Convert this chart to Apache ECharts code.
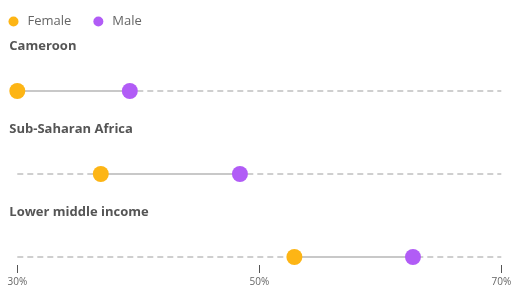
<!DOCTYPE html>
<html><head><meta charset="utf-8">
<script src="https://cdn.jsdelivr.net/npm/echarts@6/dist/echarts.min.js"></script>
<style>html,body{margin:0;padding:0;background:#fff}#c{width:511px;height:285px}</style>
</head><body><div id="c"></div>
<script>
const categories = ['Cameroon', 'Sub-Saharan Africa', 'Lower middle income'];
const female = [30.0, 36.9, 52.9];
const male = [39.3, 48.4, 62.7];
const xTicks = [30, 50, 70];

const FONT = '"Open Sans", "Noto Sans", sans-serif';
const cFemale = '#FDB515';
const cMale = '#B15CF6';

const chart = echarts.init(document.getElementById('c'));
chart.setOption({
  animation: false,
  textStyle: { fontFamily: FONT },
  legend: {
    left: 3.5, top: 10, itemWidth: 18, itemHeight: 10, itemGap: 22,
    icon: 'circle',
    textStyle: { color: '#666', fontSize: 13, fontFamily: FONT },
    data: ['Female', 'Male']
  },
  grid: { left: 17.3, right: 9.7, top: 91, bottom: 28, outerBoundsMode: 'none', containLabel: false },
  xAxis: {
    type: 'value', min: xTicks[0], max: xTicks[xTicks.length - 1], interval: 20,
    offset: 8,
    axisLine: { show: false },
    axisTick: { show: true, length: 8, lineStyle: { color: '#555' } },
    splitLine: { show: false },
    axisLabel: { color: '#666', fontSize: 10, margin: 12, formatter: v => v + '%', fontFamily: FONT }
  },
  yAxis: {
    type: 'category', data: categories, inverse: true, boundaryGap: false,
    axisLine: { show: false }, axisTick: { show: false },
    splitLine: { show: true, lineStyle: { color: '#cfcfcf', type: [6, 4], width: 2 } },
    axisLabel: {
      inside: true, margin: -8, align: 'left', verticalAlign: 'bottom',
      padding: [0, 0, 38, 0], fontWeight: 'bold', fontSize: 13, color: '#555', fontFamily: FONT
    }
  },
  series: [
    {
      type: 'custom', silent: true, z: 1,
      data: categories.map((c, i) => [female[i], male[i], i]),
      renderItem: function (params, api) {
        const a = api.coord([api.value(0), api.value(2)]);
        const b = api.coord([api.value(1), api.value(2)]);
        return { type: 'line', shape: { x1: a[0], y1: a[1], x2: b[0], y2: b[1] },
          style: { stroke: '#c8c8c8', lineWidth: 2 } };
      },
      encode: { x: [0, 1], y: 2 }
    },
    { name: 'Female', type: 'scatter', symbolSize: 16, z: 3,
      itemStyle: { color: cFemale, opacity: 1 },
      data: categories.map((c, i) => [female[i], i]) },
    { name: 'Male', type: 'scatter', symbolSize: 16, z: 3,
      itemStyle: { color: cMale, opacity: 1 },
      data: categories.map((c, i) => [male[i], i]) }
  ]
});
</script></body></html>
